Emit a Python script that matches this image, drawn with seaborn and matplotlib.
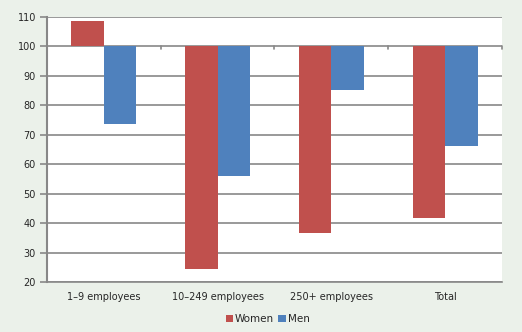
import matplotlib
matplotlib.use("Agg")
import matplotlib.pyplot as plt
import matplotlib.ticker as mticker
import seaborn as sns
import pandas as pd

categories = ["1\u20139 employees", "10\u2013249 employees", "250+ employees", "Total"]
women = [108.5, 24.4, 36.5, 41.8]
men = [73.8, 55.9, 85.3, 66.2]
series = ["Women", "Men"]
baseline = 100

rows = []
for c, w, m in zip(categories, women, men):
    rows.append({"cat": c, "sex": "Women", "val": w - baseline})
    rows.append({"cat": c, "sex": "Men", "val": m - baseline})
df = pd.DataFrame(rows)

sns.set_style("white")
plt.rcParams['font.family'] = ['DejaVu Sans']

bg = "#EBF1EA"
fig = plt.figure(figsize=(5.22, 3.32), dpi=100, facecolor=bg)
ax = fig.add_axes([0.090, 0.1506, 0.8717, 0.7982])
ax.set_facecolor("white")

palette = {"Women": "#C0504D", "Men": "#4F81BD"}
sns.barplot(data=df, x="cat", y="val", hue="sex", hue_order=series,
            palette=palette, width=0.57, saturation=1, ax=ax,
            edgecolor="none", linewidth=0, zorder=3)

ax.set_ylim(20 - baseline, 110 - baseline)
ax.set_xlim(-0.5, 3.5)
ax.yaxis.set_major_locator(mticker.MultipleLocator(10))
ax.yaxis.set_major_formatter(mticker.FuncFormatter(lambda v, p: f"{v + baseline:.0f}"))
ax.grid(axis="y", color="#888888", linewidth=1.2, zorder=0)
ax.set_axisbelow(True)
for s in ["top", "right"]:
    ax.spines[s].set_visible(False)
ax.spines["left"].set_color("#888888")
ax.spines["left"].set_linewidth(1.5)
ax.spines["bottom"].set_color("#888888")
ax.spines["bottom"].set_linewidth(1.2)
ax.tick_params(axis="y", length=5, width=1.2, color="#888888", labelsize=7, pad=3, left=True)
ax.tick_params(axis="x", length=0, labelsize=7, pad=7)
ax.set_xlabel("")
ax.set_ylabel("")

# small category-boundary ticks on the baseline axis
for xb in [0.5, 1.5, 2.5, 3.5]:
    ax.plot([xb, xb], [0, -1.0], color="#888888", linewidth=1.2, zorder=4, clip_on=False)

leg = ax.legend(loc="upper center", bbox_to_anchor=(0.485, -0.105), ncol=2, frameon=False,
                fontsize=7.5, handlelength=0.7, handleheight=0.7, handletextpad=0.2,
                columnspacing=0.4, borderaxespad=0)

fig.savefig("out.png", dpi=100, facecolor=bg)
